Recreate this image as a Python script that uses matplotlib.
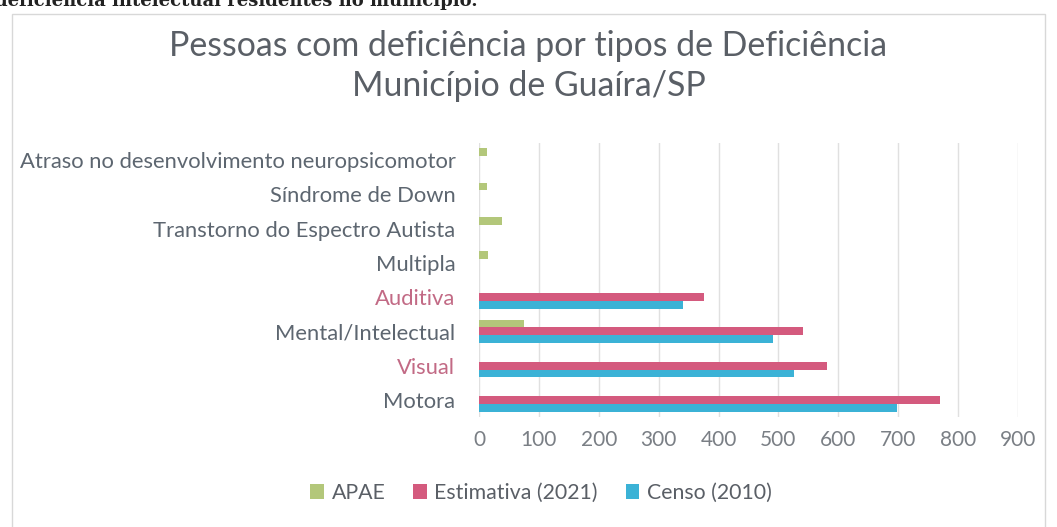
import numpy as np
import matplotlib.pyplot as plt
from matplotlib.patches import Rectangle

plt.rcParams['font.family'] = ['Lato', 'DejaVu Sans']

categories = ['Motora', 'Visual', 'Mental/Intelectual', 'Auditiva', 'Multipla',
              'Transtorno do Espectro Autista', 'Síndrome de Down',
              'Atraso no desenvolvimento neuropsicomotor']
apae = [0, 0, 75, 0, 15, 38, 13, 13]
estimativa = [770, 581, 541, 376, 0, 0, 0, 0]
censo = [698, 526, 491, 340, 0, 0, 0, 0]
series_names = ['APAE', 'Estimativa (2021)', 'Censo (2010)']
colors = ['#b3c77a', '#d45a7e', '#3bb2d6']
label_colors = ['#5d6670', '#c26a85', '#5d6670', '#c26a85',
                '#5d6670', '#5d6670', '#5d6670', '#5d6670']

fig = plt.figure(figsize=(10.57, 5.27), dpi=100)
ax = fig.add_axes([479 / 1057, 1 - 417 / 527, (1018 - 479) / 1057, (417 - 143) / 527])

y = np.arange(len(categories))
h = 0.23
ax.barh(y + h, apae, h, color=colors[0], label=series_names[0])
ax.barh(y, estimativa, h, color=colors[1], label=series_names[1])
ax.barh(y - h, censo, h, color=colors[2], label=series_names[2])

ax.set_xlim(0, 900)
ax.set_ylim(-0.5, len(categories) - 0.5)
ax.set_xticks(np.arange(0, 901, 100))
ax.set_yticks(y, categories)
for t, c in zip(ax.get_yticklabels(), label_colors):
    t.set_color(c)
ax.tick_params(axis='y', length=0, labelsize=15.8, pad=17)
ax.tick_params(axis='x', length=0, labelsize=15, labelcolor='#7a7f85', pad=9)
ax.grid(axis='x', color='#e0e0e0', linewidth=1)
ax.set_axisbelow(True)
for s in ax.spines.values():
    s.set_visible(False)

fig.text(0.5, 1 - 46 / 527, 'Pessoas com deficiência por tipos de Deficiência',
         ha='center', va='center', fontsize=24.4, color='#5a5f66')
fig.text(0.5, 1 - 86 / 527, 'Município de Guaíra/SP',
         ha='center', va='center', fontsize=24.4, color='#5a5f66')

handles, labels = ax.get_legend_handles_labels()
fig.legend(handles, labels, loc='center', bbox_to_anchor=(541 / 1057, 1 - 493 / 527),
           ncol=3, frameon=False, fontsize=15.3, labelcolor='#5a5f66',
           handlelength=0.65, handleheight=0.65, handletextpad=0.35, columnspacing=1.3)

# chart border and the cut-off line of the page text above it
fig.add_artist(Rectangle((12 / 1057, -0.05), 1033 / 1057, 1.05 - 14 / 527,
                         transform=fig.transFigure, fill=False,
                         edgecolor='#d8d8d8', linewidth=1))
fig.text(-0.005, 1.0, 'deficiência intelectual residentes no município.',
         ha='left', va='center', fontsize=13, fontweight='bold',
         family='DejaVu Serif', color='#222222')

fig.savefig('out.png', dpi=100)
